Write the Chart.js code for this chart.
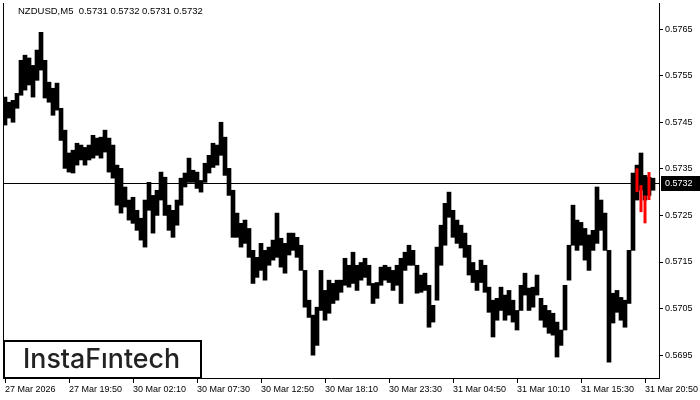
<!DOCTYPE html>
<html>
<head>
<meta charset="utf-8">
<title>NZDUSD M5</title>
<script src="https://cdn.jsdelivr.net/npm/chart.js@4.4.1/dist/chart.umd.min.js"></script>
<style>
    html, body { margin: 0; padding: 0; background: #fff; }
    #wrap { position: relative; width: 700px; height: 400px; }
</style>
</head>
<body>
<div id="wrap"><canvas id="chart"></canvas></div>
<script>
// NZDUSD M5 chart, one bar per 20 minutes (high / low)
const symbolTitle = 'NZDUSD,M5  0.5731 0.5732 0.5731 0.5732';
const lastPrice = 0.5732;

const tickLabels = [
    '27 Mar 2026', '27 Mar 19:50', '30 Mar 02:10', '30 Mar 07:30', '30 Mar 12:50', '30 Mar 18:10',
    '30 Mar 23:30', '31 Mar 04:50', '31 Mar 10:10', '31 Mar 15:30', '31 Mar 20:50'
];
const priceTicks = [0.5695, 0.5705, 0.5715, 0.5725, 0.5735, 0.5745, 0.5755, 0.5765];

const highs = [
    0.57504, 0.57493, 0.57497, 0.57512, 0.57583, 0.57594, 0.57588, 0.57572, 0.57605, 0.57643,
    0.57583, 0.57536, 0.57523, 0.57534, 0.57480, 0.57433, 0.57384, 0.57390, 0.57405, 0.57401,
    0.57396, 0.57401, 0.57422, 0.57416, 0.57418, 0.57433, 0.57416, 0.57401, 0.57358, 0.57351,
    0.57311, 0.57283, 0.57289, 0.57261, 0.57244, 0.57283, 0.57321, 0.57293, 0.57304, 0.57343,
    0.57332, 0.57272, 0.57261, 0.57283, 0.57330, 0.57341, 0.57373, 0.57347, 0.57343, 0.57325,
    0.57362, 0.57379, 0.57405, 0.57401, 0.57450, 0.57418, 0.57351, 0.57304, 0.57255, 0.57233,
    0.57240, 0.57222, 0.57175, 0.57160, 0.57190, 0.57175, 0.57182, 0.57197, 0.57255, 0.57201,
    0.57190, 0.57212, 0.57212, 0.57203, 0.57186, 0.57132, 0.57068, 0.57036, 0.57053, 0.57132,
    0.57089, 0.57111, 0.57104, 0.57111, 0.57111, 0.57158, 0.57143, 0.57171, 0.57143, 0.57149,
    0.57158, 0.57143, 0.57104, 0.57106, 0.57139, 0.57143, 0.57139, 0.57132, 0.57143, 0.57158,
    0.57171, 0.57186, 0.57175, 0.57143, 0.57122, 0.57126, 0.57100, 0.57057, 0.57182, 0.57229,
    0.57276, 0.57300, 0.57261, 0.57240, 0.57229, 0.57212, 0.57186, 0.57149, 0.57132, 0.57154,
    0.57143, 0.57096, 0.57068, 0.57072, 0.57096, 0.57079, 0.57089, 0.57068, 0.57046, 0.57100,
    0.57126, 0.57094, 0.57096, 0.57122, 0.57072, 0.57057, 0.57046, 0.57040, 0.57021, 0.57004,
    0.57100, 0.57186, 0.57272, 0.57240, 0.57235, 0.57222, 0.57208, 0.57218, 0.57311, 0.57283,
    0.57255, 0.57175, 0.57083, 0.57089, 0.57074, 0.57068, 0.57175, 0.57341, 0.57358, 0.57384,
    0.57336, 0.57332, 0.57330
];
const lows = [
    0.57444, 0.57459, 0.57450, 0.57480, 0.57508, 0.57519, 0.57530, 0.57504, 0.57540, 0.57562,
    0.57502, 0.57493, 0.57465, 0.57476, 0.57411, 0.57351, 0.57343, 0.57341, 0.57358, 0.57369,
    0.57358, 0.57369, 0.57373, 0.57379, 0.57373, 0.57386, 0.57343, 0.57330, 0.57272, 0.57255,
    0.57268, 0.57240, 0.57233, 0.57218, 0.57197, 0.57182, 0.57261, 0.57212, 0.57250, 0.57283,
    0.57250, 0.57218, 0.57203, 0.57229, 0.57272, 0.57311, 0.57321, 0.57321, 0.57308, 0.57300,
    0.57321, 0.57341, 0.57353, 0.57358, 0.57379, 0.57336, 0.57293, 0.57203, 0.57203, 0.57182,
    0.57190, 0.57160, 0.57104, 0.57117, 0.57132, 0.57111, 0.57143, 0.57154, 0.57160, 0.57139,
    0.57126, 0.57165, 0.57175, 0.57160, 0.57132, 0.57053, 0.57031, 0.56950, 0.56971, 0.57046,
    0.57025, 0.57040, 0.57061, 0.57068, 0.57085, 0.57100, 0.57096, 0.57104, 0.57089, 0.57111,
    0.57117, 0.57100, 0.57061, 0.57072, 0.57100, 0.57111, 0.57106, 0.57089, 0.57100, 0.57061,
    0.57132, 0.57143, 0.57143, 0.57083, 0.57085, 0.57089, 0.57010, 0.57021, 0.57068, 0.57143,
    0.57186, 0.57246, 0.57203, 0.57190, 0.57180, 0.57160, 0.57122, 0.57106, 0.57089, 0.57106,
    0.57085, 0.57042, 0.56989, 0.57025, 0.57046, 0.57025, 0.57036, 0.57021, 0.57004, 0.57046,
    0.57079, 0.57046, 0.57053, 0.57079, 0.57025, 0.57010, 0.56997, 0.56993, 0.56946, 0.56971,
    0.57004, 0.57111, 0.57186, 0.57175, 0.57186, 0.57154, 0.57132, 0.57175, 0.57190, 0.57218,
    0.57175, 0.56935, 0.57019, 0.57042, 0.57025, 0.57010, 0.57061, 0.57175, 0.57283, 0.57304,
    0.57283, 0.57293, 0.57304
];

// red pattern bars at the end
const patternStart = 158;
const patternHighs = [0.57351, 0.57315, 0.57293, 0.57343];
const patternLows = [0.57300, 0.57257, 0.57233, 0.57283];

const barCount = 164;
const labelEvery = 16;
const categories = Array.from({ length: barCount }, (_, i) => String(i));

const axisFont = { family: 'Liberation Sans', size: 9 };

const priceBars = highs.map((h, i) => [lows[i], h]);
const patternBars = categories.map((_, i) => {
    const k = i - patternStart;
    return (k >= 0 && k < patternHighs.length) ? [patternLows[k], patternHighs[k]] : null;
});

// price line, frame, price tag, title and logo
const overlay = {
    id: 'overlay',
    beforeDatasetsDraw(chart) {
        const { ctx, chartArea: a, scales: { y } } = chart;
        const py = Math.round(y.getPixelForValue(lastPrice)) + 0.5;
        ctx.save();
        ctx.strokeStyle = '#000';
        ctx.lineWidth = 1;
        ctx.beginPath();
        ctx.moveTo(a.left, py);
        ctx.lineTo(a.right, py);
        ctx.moveTo(a.left + 0.5, a.top);
        ctx.lineTo(a.left + 0.5, a.bottom);
        ctx.stroke();
        ctx.restore();
    },
    afterDraw(chart) {
        const { ctx, chartArea: a, scales: { y } } = chart;
        const py = Math.round(y.getPixelForValue(lastPrice));
        ctx.save();

        // current price tag on the axis
        ctx.fillStyle = '#000';
        ctx.fillRect(a.right + 2, py - 7, 40, 15);
        ctx.fillStyle = '#fff';
        ctx.font = '9px "Liberation Sans"';
        ctx.textBaseline = 'middle';
        ctx.fillText(lastPrice.toFixed(4), a.right + 6, py + 1);

        // symbol line
        ctx.fillStyle = '#000';
        ctx.font = '9.5px "Liberation Sans"';
        ctx.fillText(symbolTitle, 18, 11);

        // logo box
        ctx.fillStyle = '#fff';
        ctx.fillRect(3, 340, 199, 38);
        ctx.strokeStyle = '#000';
        ctx.lineWidth = 2;
        ctx.strokeRect(4, 341, 197, 37);
        ctx.fillStyle = '#222';
        ctx.font = '500 27px Inter';
        ctx.textBaseline = 'alphabetic';
        ctx.fillText('InstaF\u0131ntech', 23, 368, 157);
        ctx.restore();
    }
};

new Chart(document.getElementById('chart'), {
    type: 'bar',
    data: {
        labels: categories,
        datasets: [{
            data: priceBars,
            backgroundColor: '#000',
            borderWidth: 0,
            barPercentage: 1,
            categoryPercentage: 1,
            grouped: false,
            order: 2
        }, {
            data: patternBars,
            backgroundColor: '#ff0000',
            borderWidth: 0,
            barPercentage: 0.75,
            categoryPercentage: 1,
            grouped: false,
            order: 1
        }]
    },
    options: {
        responsive: true,
        maintainAspectRatio: false,
        animation: false,
        devicePixelRatio: 1,
        layout: { padding: { left: 3, top: 3, right: 0, bottom: 0 } },
        plugins: { legend: { display: false }, tooltip: { enabled: false } },
        scales: {
            x: {
                type: 'category',
                offset: true,
                grid: { drawOnChartArea: false, offset: false, tickLength: 5, color: '#000' },
                border: { color: '#000' },
                ticks: {
                    align: 'start',
                    maxRotation: 0,
                    autoSkip: false,
                    padding: 1,
                    color: '#000',
                    font: axisFont,
                    callback: v => tickLabels[v / labelEvery] || ''
                },
                afterBuildTicks: s => { s.ticks = s.ticks.filter(t => t.value % labelEvery === 0); },
                afterFit: s => { s.height = 22; s.paddingLeft = 0; s.paddingRight = 0; }
            },
            y: {
                position: 'right',
                min: 0.56901,
                max: 0.57706,
                grid: { drawOnChartArea: false, tickLength: 4, color: '#000' },
                border: { color: '#000' },
                ticks: {
                    padding: 2,
                    color: '#000',
                    font: axisFont,
                    callback: v => v.toFixed(4)
                },
                afterBuildTicks: s => { s.ticks = priceTicks.map(v => ({ value: v })); },
                afterFit: s => { s.width = 41; s.paddingTop = 0; s.paddingBottom = 0; }
            }
        }
    },
    plugins: [overlay]
});
</script>
</body>
</html>
